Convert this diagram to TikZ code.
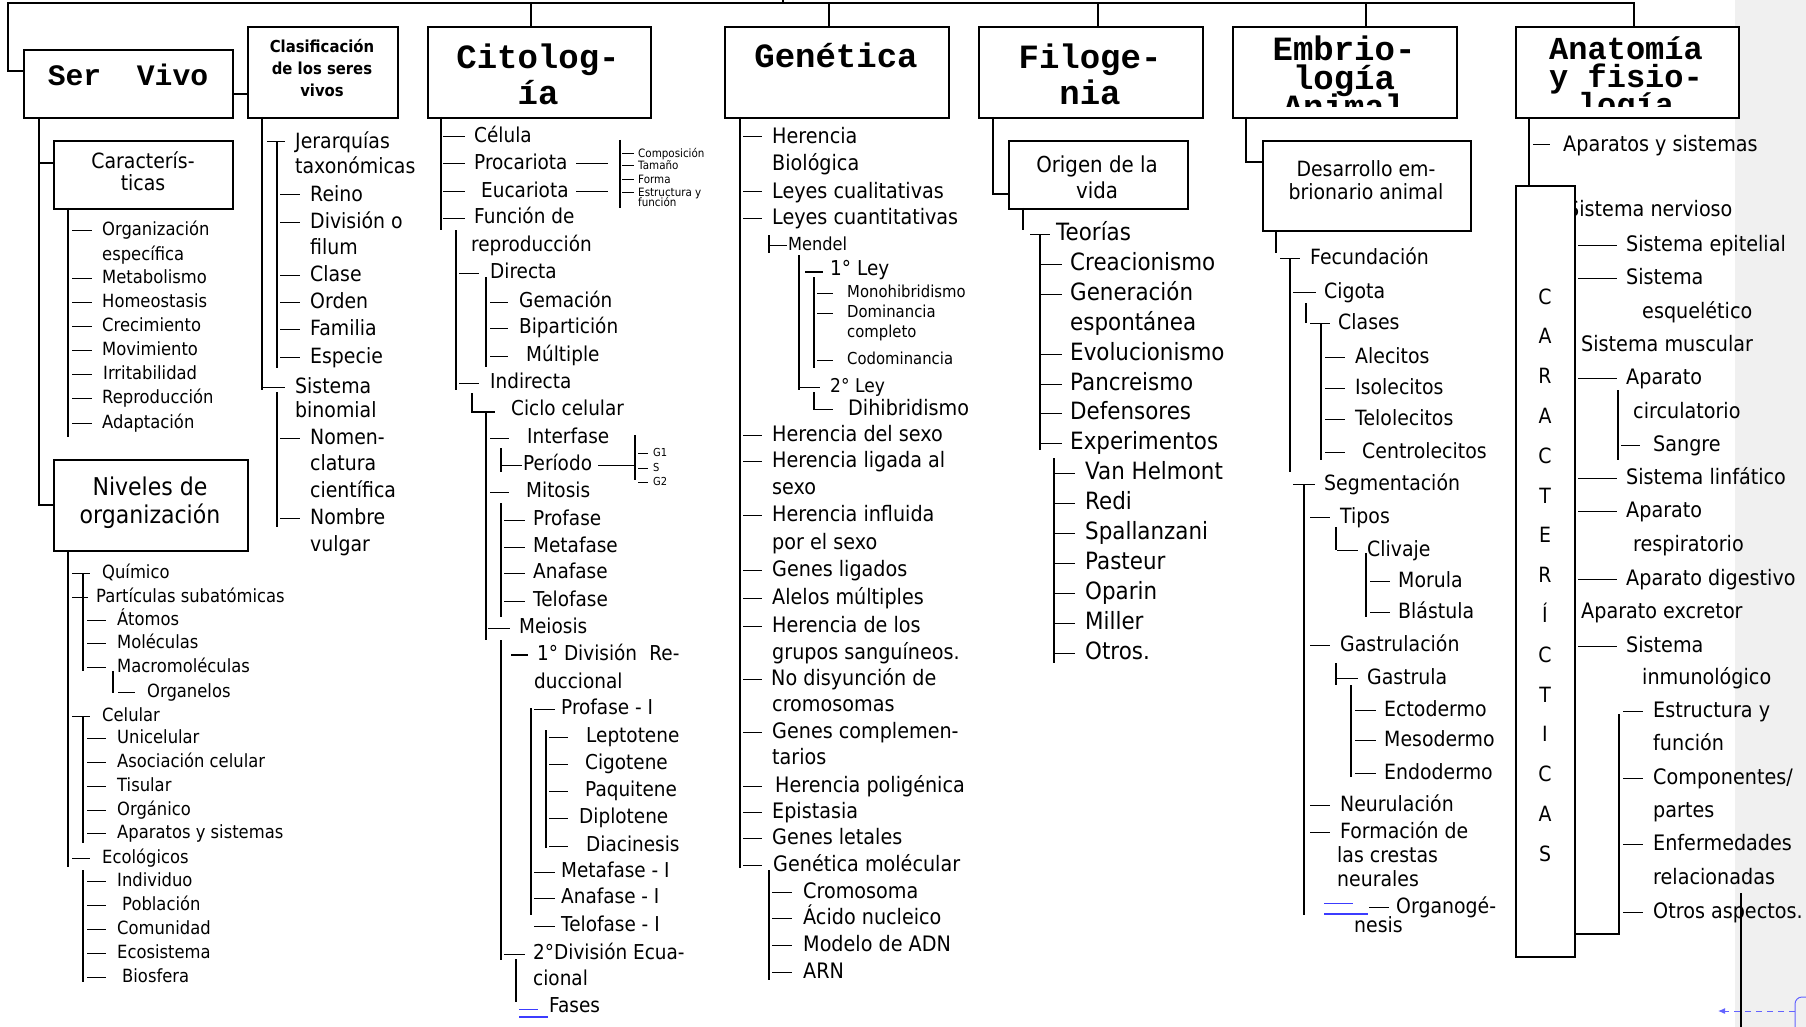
\documentclass[tikz,border=0pt]{standalone}
\usepackage{fontspec}
\setmainfont{DejaVu Sans}[FakeStretch=0.9]
\setmonofont{Liberation Mono}
\usetikzlibrary{arrows.meta}
\definecolor{margin}{HTML}{F0F0F0}
\definecolor{cmtblue}{RGB}{60,60,255}

% list entry: dash from x1 to x2 at height y, text starting at xt
\newcommand\itm[7][]{\draw[dsh] (#4,#3) -- (#5,#3);\node[it,#1] (#2) at (#6,#3) {#7};}
% continuation line of a list entry
\newcommand\txt[5][]{\node[it,#1] (#2) at (#4,#3) {#5};}
% vertical trunk line
\newcommand\vl[3]{\draw[ln] (#1,#2) -- (#1,#3);}

\tikzset{
  fs/.style={font=\fontsize{#1pt}{#1pt}\selectfont, text height=0.72*#1pt, text depth=0.14*#1pt},
  it/.style={inner sep=0pt, anchor=west, fs=20.5},
  ct/.style={inner sep=0pt, fs=#1},
  bt/.style={inner sep=0pt, fs=#1, font=\bfseries\fontsize{#1pt}{#1pt}\selectfont},
  hd/.style={inner sep=0pt, font=\ttfamily\bfseries\fontsize{#1pt}{#1pt}\selectfont, text height=0.6*#1pt, text depth=0pt},
  box/.style={draw, line width=1.6pt, fill=white, inner sep=0pt, anchor=north west},
  ln/.style={line width=1.5pt},
  dsh/.style={line width=1pt},
}

\begin{document}
\begin{tikzpicture}[x=1pt, y=-1pt]
\useasboundingbox (0,0) rectangle (1806,1027);
\clip (0,0) rectangle (1806,1027);
\fill[white] (0,0) rectangle (1806,1027);
\fill[margin] (1735,0) rectangle (1806,1027);

% ---------- top bus ----------
\coordinate (root) at (783,0);
\draw[ln] (root) -- (783,3);
\draw[ln] (23,71) -| (8,3) -- (1634,3) -- (1634,26);
\foreach \x in {531,829,1098,1366} \draw[ln] (\x,3) -- (\x,26);

% ---------- Ser Vivo ----------
\node[box, minimum width=209pt, minimum height=68pt] (sv) at (23,49) {};
\node[hd=29.7] (svt) at (128,77) {Ser\ \ Vivo};
\node[box, minimum width=150pt, minimum height=91pt] (cl) at (247,26) {};
\node[bt=16.5] (clt1) at (322,48) {Clasificación};
\node[bt=16.5] (clt2) at (322,70) {de los seres};
\node[bt=16.5] (clt3) at (322,92) {vivos};
\draw[ln] (sv.east |- 0,94) -- (cl.west |- 0,94);

\node[box, minimum width=179pt, minimum height=68pt] (car) at (53,140) {};
\node[ct=21] (cart1) at (143,162) {Caracterís-};
\node[ct=21] (cart2) at (143,184) {ticas};
\node[box, minimum width=194pt, minimum height=91pt] (niv) at (53,459) {};
\node[ct=24.5] (nivt1) at (150,488) {Niveles de};
\node[ct=24.5] (nivt2) at (150,516) {organización};
\draw[ln] (39,117) -- (39,505) -- (niv.west |- 0,505);
\draw[ln] (39,163) -- (car.west |- 0,163);

\begin{scope}[it/.style={inner sep=0pt, anchor=west, fs=18.2}]
\vl{68}{208}{437}
\itm{sv1}{230}{72}{92}{102}{Organización}
\txt{sv1b}{255}{102}{específica}
\itm{sv2}{278}{72}{92}{102}{Metabolismo}
\itm{sv3}{302}{72}{92}{102}{Homeostasis}
\itm{sv4}{326}{72}{92}{102}{Crecimiento}
\itm{sv5}{350}{72}{92}{102}{Movimiento}
\itm{sv6}{374}{72}{92}{103}{Irritabilidad}
\itm{sv7}{398}{72}{92}{102}{Reproducción}
\itm{sv8}{423}{72}{92}{102}{Adaptación}
\end{scope}

\begin{scope}[it/.style={inner sep=0pt, anchor=west, fs=18.2}]
\vl{68}{550}{867}
\draw[dsh] (72,573) -- (90,573); \vl{83}{573}{671}
\txt{n1}{573}{102}{Químico}
\draw[dsh] (72,597) -- (88,597);
\txt{n2}{597}{96}{Partículas subatómicas}
\itm{n3}{620}{87}{106}{117}{Átomos}
\itm{n4}{643}{87}{106}{117}{Moléculas}
\itm{n5}{667}{87}{106}{117}{Macromoléculas}
\vl{113}{671}{693}
\itm{n6}{692}{118}{135}{147}{Organelos}
\draw[dsh] (72,716) -- (90,716); \vl{83}{716}{843}
\txt{n7}{716}{102}{Celular}
\itm{n8}{738}{87}{106}{117}{Unicelular}
\itm{n9}{762}{87}{106}{117}{Asociación celular}
\itm{n10}{786}{87}{106}{117}{Tisular}
\itm{n11}{810}{87}{106}{117}{Orgánico}
\itm{n12}{833}{87}{106}{117}{Aparatos y sistemas}
\itm{n13}{858}{72}{90}{102}{Ecológicos}
\vl{83}{870}{982}
\itm{n14}{881}{87}{106}{117}{Individuo}
\itm{n15}{905}{87}{106}{122}{Población}
\itm{n16}{929}{87}{106}{117}{Comunidad}
\itm{n17}{953}{87}{106}{117}{Ecosistema}
\itm{n18}{977}{87}{106}{122}{Biosfera}
\end{scope}

% ---------- Clasificación ----------
\begin{scope}[it/.style={inner sep=0pt, anchor=west, fs=21}]
\vl{262}{117}{390}
\draw[dsh] (267,142) -- (285,142); \vl{277}{142}{368}
\txt{c1}{142}{295}{Jerarquías}
\txt{c1b}{167}{295}{taxonómicas}
\itm{c2}{195}{280}{300}{310}{Reino}
\itm{c3}{222}{280}{300}{310}{División o}
\txt{c3b}{248}{310}{filum}
\itm{c4}{275}{280}{300}{310}{Clase}
\itm{c5}{302}{280}{300}{310}{Orden}
\itm{c6}{329}{280}{300}{310}{Familia}
\itm{c7}{357}{280}{300}{310}{Especie}
\draw[dsh] (262,387) -- (285,387);
\txt{c8}{387}{295}{Sistema}
\txt{c8b}{411}{295}{binomial}
\vl{277}{392}{527}
\itm{c9}{438}{280}{300}{310}{Nomen-}
\txt{c9b}{464}{310}{clatura}
\txt{c9c}{491}{310}{científica}
\itm{c10}{518}{280}{300}{310}{Nombre}
\txt{c10b}{545}{310}{vulgar}
\end{scope}

% ---------- Citología ----------
\node[box, minimum width=223pt, minimum height=91pt] (cit) at (427,26) {};
\node[hd=34] (citt1) at (538,58) {Citolog-};
\node[hd=34] (citt2) at (538,94) {ía};
\vl{441}{117}{230}
\itm{z1}{137}{443}{465}{474}{Célula}
\itm{z2}{164}{443}{465}{474}{Procariota}
\draw[dsh] (576,164) -- (608,164);
\itm{z3}{192}{443}{465}{481}{Eucariota}
\draw[dsh] (576,192) -- (608,192);
\itm{z4}{218}{443}{465}{474}{Función de}
\txt{z4b}{246}{471}{reproducción}
\draw[ln] (620,140) -- (620,208);
\begin{scope}[it/.style={inner sep=0pt, anchor=west, fs=11.5}]
\itm{zs1}{154}{622}{634}{638}{Composición}
\itm{zs2}{166}{622}{634}{638}{Tamaño}
\itm{zs3}{180}{622}{634}{638}{Forma}
\itm{zs4}{193}{622}{634}{638}{Estructura y}
\txt{zs4b}{203}{638}{función}
\end{scope}
\vl{456}{230}{390}
\itm{z5}{273}{459}{479}{490}{Directa}
\vl{486}{277}{367}
\itm{z6}{302}{490}{508}{519}{Gemación}
\itm{z7}{328}{490}{508}{519}{Bipartición}
\itm{z8}{356}{490}{508}{526}{Múltiple}
\itm{z9}{383}{459}{479}{490}{Indirecta}
\draw[ln] (472,393) -- (472,412) -- (495,412);
\txt{z10}{410}{511}{Ciclo celular}
\vl{486}{412}{640}
\itm{z11}{438}{490}{509}{527}{Interfase}
\vl{501}{448}{472}
\itm{z12}{465}{501}{522}{523}{Período}
\draw[dsh] (598,465) -- (635,465);
\draw[ln] (635,435) -- (635,480);
\begin{scope}[it/.style={inner sep=0pt, anchor=west, fs=11}]
\itm{zg1}{453}{638}{648}{653}{G1}
\itm{zg2}{468}{638}{648}{653}{S}
\itm{zg3}{482}{638}{648}{653}{G2}
\end{scope}
\itm{z13}{492}{490}{509}{526}{Mitosis}
\vl{501}{503}{617}
\itm{z14}{520}{504}{525}{533}{Profase}
\itm{z15}{547}{504}{525}{533}{Metafase}
\itm{z16}{573}{504}{525}{533}{Anafase}
\itm{z17}{601}{504}{525}{533}{Telofase}
\itm{z18}{628}{488}{510}{519}{Meiosis}
\vl{501}{640}{960}
\draw[ln] (511,655) -- (528,655);
\txt{z19}{655}{537}{1° División\hspace{0.6em}Re-}
\txt{z19b}{683}{534}{duccional}
\vl{531}{708}{915}
\itm{z20}{709}{534}{555}{561}{Profase - I}
\vl{546}{730}{848}
\itm{z21}{737}{549}{568}{586}{Leptotene}
\itm{z22}{764}{549}{568}{585}{Cigotene}
\itm{z23}{791}{549}{568}{585}{Paquitene}
\itm{z24}{818}{549}{568}{579}{Diplotene}
\itm{z25}{846}{549}{568}{586}{Diacinesis}
\itm{z26}{872}{534}{555}{561}{Metafase - I}
\itm{z27}{898}{534}{555}{561}{Anafase - I}
\itm{z28}{926}{534}{555}{561}{Telofase - I}
\itm{z29}{954}{504}{525}{533}{2°División Ecua-}
\txt{z29b}{980}{533}{cional}
\vl{516}{959}{1002}
\draw[cmtblue, line width=1pt] (519,1009) -- (538,1009);
\draw[cmtblue, line width=1.5pt] (519,1017) -- (548,1017);
\txt{z30}{1007}{549}{Fases}

% ---------- Genética ----------
\node[box, minimum width=224pt, minimum height=91pt] (gen) at (724,26) {};
\node[hd=34] (gent) at (836,57) {Genética};
\begin{scope}[it/.style={inner sep=0pt, anchor=west, fs=21.3}]
\vl{740}{117}{868}
\itm{g1}{137}{743}{762}{772}{Herencia}
\txt{g1b}{164}{772}{Biológica}
\itm{g2}{192}{743}{762}{772}{Leyes cualitativas}
\itm{g3}{218}{743}{762}{772}{Leyes cuantitativas}
\vl{769}{235}{253}
\itm[fs=18]{g4}{245}{769}{787}{788}{Mendel}
\vl{799}{255}{390}
\draw[ln] (805,272) -- (823,272);
\txt[fs=20.5]{g5}{270}{830}{1° Ley}
\vl{814}{277}{368}
\itm[fs=16.5]{g6}{293}{817}{833}{847}{Monohibridismo}
\itm[fs=16.5]{g7}{313}{817}{833}{847}{Dominancia}
\txt[fs=16.5]{g7b}{333}{847}{completo}
\itm[fs=16.5]{g8}{360}{817}{833}{847}{Codominancia}
\itm[fs=19]{g9}{387}{800}{820}{830}{2° Ley}
\vl{814}{392}{410}
\itm{g10}{409}{814}{833}{848}{Dihibridismo}
\itm{g11}{435}{743}{762}{772}{Herencia del sexo}
\itm{g12}{461}{743}{762}{772}{Herencia ligada al}
\txt{g12b}{488}{772}{sexo}
\itm{g13}{515}{743}{762}{772}{Herencia influida}
\txt{g13b}{543}{772}{por el sexo}
\itm{g14}{570}{743}{762}{772}{Genes ligados}
\itm{g15}{598}{743}{762}{772}{Alelos múltiples}
\itm{g16}{626}{743}{762}{772}{Herencia de los}
\txt{g16b}{653}{772}{grupos sanguíneos.}
\itm{g17}{679}{743}{762}{771}{No disyunción de}
\txt{g17b}{705}{772}{cromosomas}
\itm{g18}{732}{743}{762}{772}{Genes complemen-}
\txt{g18b}{758}{772}{tarios}
\itm{g19}{786}{743}{762}{775}{Herencia poligénica}
\itm{g20}{812}{743}{762}{772}{Epistasia}
\itm{g21}{838}{743}{762}{772}{Genes letales}
\itm{g22}{865}{743}{762}{773}{Genética molécular}
\vl{769}{870}{980}
\itm{g23}{892}{772}{792}{803}{Cromosoma}
\itm{g24}{918}{772}{792}{803}{Ácido nucleico}
\itm{g25}{945}{772}{792}{803}{Modelo de ADN}
\itm{g26}{972}{772}{792}{803}{ARN}
\end{scope}

% ---------- Filogenia ----------
\node[box, minimum width=224pt, minimum height=91pt] (fil) at (978,26) {};
\node[hd=34] (filt1) at (1090,58) {Filoge-};
\node[hd=34] (filt2) at (1090,94) {nia};
\node[box, minimum width=179pt, minimum height=68pt] (ori) at (1008,140) {};
\node[ct=22] (orit1) at (1097,166) {Origen de la};
\node[ct=22] (orit2) at (1097,192) {vida};
\draw[ln] (993,117) -- (993,194) -- (ori.west |- 0,194);
\vl{1023}{208}{230}
\begin{scope}[it/.style={inner sep=0pt, anchor=west, fs=23.8}]
\draw[dsh] (1030,234) -- (1050,234); \vl{1040}{234}{450}
\txt{f1}{234}{1056}{Teorías}
\itm{f2}{264}{1041}{1062}{1070}{Creacionismo}
\itm{f3}{294}{1041}{1062}{1070}{Generación}
\txt{f3b}{324}{1070}{espontánea}
\itm{f4}{354}{1041}{1062}{1070}{Evolucionismo}
\itm{f5}{384}{1041}{1062}{1070}{Pancreismo}
\itm{f6}{413}{1041}{1062}{1070}{Defensores}
\itm{f7}{443}{1041}{1062}{1070}{Experimentos}
\vl{1054}{458}{663}
\itm{f8}{473}{1055}{1075}{1085}{Van Helmont}
\itm{f9}{503}{1055}{1075}{1085}{Redi}
\itm{f10}{533}{1055}{1075}{1085}{Spallanzani}
\itm{f11}{563}{1055}{1075}{1085}{Pasteur}
\itm{f12}{593}{1055}{1075}{1085}{Oparin}
\itm{f13}{623}{1055}{1075}{1085}{Miller}
\itm{f14}{653}{1055}{1075}{1085}{Otros.}
\end{scope}

% ---------- Embriología ----------
\node[box, minimum width=224pt, minimum height=91pt] (emb) at (1232,26) {};
\begin{scope}
\clip (1232,26) rectangle (1456,107);
\node[hd=34] (embt1) at (1344,50) {Embrio-};
\node[hd=34] (embt2) at (1344,79) {logía};
\node[hd=34] (embt3) at (1344,108) {Animal};
\end{scope}
\node[box, minimum width=208pt, minimum height=90pt] (des) at (1262,140) {};
\node[ct=21] (dest1) at (1366,170) {Desarrollo em-};
\node[ct=21] (dest2) at (1366,193) {brionario animal};
\draw[ln] (1246,117) -- (1246,162) -- (des.west |- 0,162);
\begin{scope}[it/.style={inner sep=0pt, anchor=west, fs=21}]
\vl{1276}{230}{253}
\draw[dsh] (1280,258) -- (1300,258); \vl{1290}{258}{472}
\txt{e1}{258}{1310}{Fecundación}
\itm{e2}{292}{1293}{1316}{1324}{Cigota}
\vl{1306}{303}{323}
\draw[dsh] (1310,323) -- (1330,323); \vl{1321}{323}{460}
\txt{e3}{323}{1338}{Clases}
\itm{e4}{357}{1325}{1345}{1355}{Alecitos}
\itm{e5}{388}{1325}{1345}{1355}{Isolecitos}
\itm{e6}{419}{1325}{1345}{1355}{Telolecitos}
\itm{e7}{452}{1325}{1345}{1362}{Centrolecitos}
\draw[dsh] (1293,484) -- (1315,484); \vl{1304}{484}{915}
\txt{e8}{484}{1324}{Segmentación}
\itm{e9}{517}{1310}{1330}{1340}{Tipos}
\vl{1336}{527}{550}
\itm{e10}{550}{1337}{1358}{1367}{Clivaje}
\vl{1366}{553}{617}
\itm{e11}{581}{1370}{1390}{1398}{Morula}
\itm{e12}{612}{1370}{1390}{1398}{Blástula}
\itm{e13}{645}{1310}{1330}{1340}{Gastrulación}
\vl{1336}{663}{685}
\itm{e14}{678}{1337}{1358}{1367}{Gastrula}
\vl{1351}{685}{777}
\itm{e15}{710}{1355}{1376}{1384}{Ectodermo}
\itm{e16}{740}{1355}{1376}{1384}{Mesodermo}
\itm{e17}{773}{1355}{1376}{1384}{Endodermo}
\itm{e18}{805}{1310}{1330}{1340}{Neurulación}
\itm{e19}{832}{1310}{1330}{1340}{Formación de}
\txt{e19b}{856}{1337}{las crestas}
\txt{e19c}{880}{1337}{neurales}
\draw[cmtblue, line width=1pt] (1324,903) -- (1353,903);
\draw[cmtblue, line width=1.5pt] (1324,914) -- (1368,914);
\itm{e20}{907}{1369}{1389}{1396}{Organogé-}
\txt{e20b}{926}{1354}{nesis}
\end{scope}

% ---------- Anatomía y fisiología ----------
\node[box, minimum width=223pt, minimum height=91pt] (ana) at (1515,26) {};
\begin{scope}
\clip (1515,26) rectangle (1738,107);
\node[hd=32] (anat1) at (1626,50) {Anatomía};
\node[hd=32] (anat2) at (1626,78) {y fisio-};
\node[hd=32] (anat3) at (1626,106) {logía};
\end{scope}
\draw[ln] (1529,117) -- (1529,185);
\begin{scope}[it/.style={inner sep=0pt, anchor=west, fs=21.3}]
\itm{a0}{145}{1533}{1550}{1563}{Aparatos y sistemas}
\txt{a1}{210}{1567}{Sistema nervioso}
\itm{a2}{245}{1578}{1617}{1626}{Sistema epitelial}
\itm{a3}{278}{1578}{1617}{1626}{Sistema}
\txt{a3b}{312}{1642}{esquelético}
\txt{a4}{345}{1581}{Sistema muscular}
\itm{a5}{378}{1578}{1617}{1626}{Aparato}
\vl{1618}{390}{460}
\txt{a5b}{412}{1633}{circulatorio}
\itm{a6}{445}{1621}{1640}{1653}{Sangre}
\itm{a7}{478}{1578}{1617}{1626}{Sistema linfático}
\itm{a8}{511}{1578}{1617}{1626}{Aparato}
\txt{a8b}{545}{1633}{respiratorio}
\itm{a9}{579}{1578}{1617}{1626}{Aparato digestivo}
\txt{a10}{612}{1581}{Aparato excretor}
\itm{a11}{646}{1578}{1617}{1626}{Sistema}
\txt{a11b}{678}{1642}{inmunológico}
\itm{a12}{711}{1623}{1643}{1653}{Estructura y}
\txt{a12b}{744}{1653}{función}
\itm{a13}{778}{1623}{1643}{1653}{Componentes/}
\txt{a13b}{811}{1653}{partes}
\itm{a14}{844}{1623}{1643}{1653}{Enfermedades}
\txt{a14b}{878}{1653}{relacionadas}
\itm{a15}{912}{1623}{1643}{1653}{Otros aspectos.}
\end{scope}
\node[box, minimum width=59pt, minimum height=771pt] (carb) at (1515,185) {};
\draw[ln] (carb.east |- 0,934) -- (1619,934) -- (1619,714);
\foreach \l [count=\i] in {C,A,R,A,C,T,E,R,Í,C,T,I,C,A,S}
  \node[ct=21] (k\i) at (1545,{298+39.8*(\i-1)}) {\l};

% ---------- margin marks ----------
\draw[ln] (1741,893) -- (1741,1027);
\coordinate (cmt) at (1795,1011);
\coordinate (cmtend) at (1718,1011);
\draw[cmtblue!80, line width=1pt, dash pattern=on 6pt off 5pt, -{Latex[length=7pt,width=6pt]}] (cmt) -- (cmtend);
\draw[cmtblue!80, line width=1pt, rounded corners=7pt] (1795,1030) -- (1795,997) -- (1815,997);
\end{tikzpicture}
\end{document}
